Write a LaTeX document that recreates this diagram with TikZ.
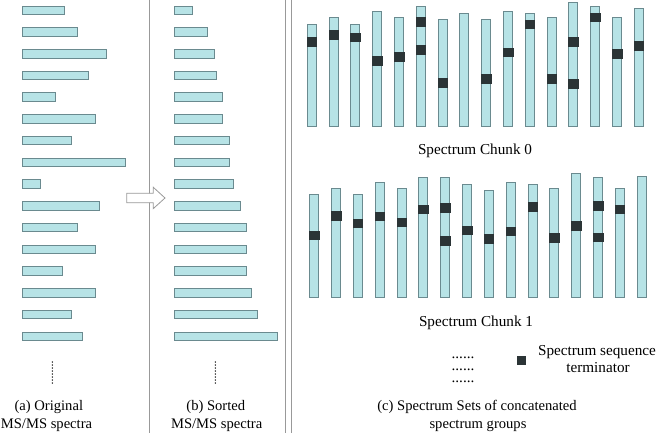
\documentclass[tikz,border=0pt]{standalone}
\usepackage{fontspec}
\setmainfont{Liberation Serif}
\definecolor{barfill}{HTML}{B7E3E6}
\definecolor{barline}{HTML}{6A8A8F}
\definecolor{termcol}{HTML}{2B3436}
\definecolor{divcol}{HTML}{999999}
\begin{document}
\begin{tikzpicture}[x=1pt,y=-1pt,
  hbar/.style={fill=barfill,draw=barline,line width=0.9pt},
  termbox/.style={fill=termcol,draw=termcol,line width=0.4pt},
  divline/.style={draw=divcol,line width=0.9pt},
  lbl/.style={font=\fontsize{15.2pt}{19pt}\selectfont,inner sep=0pt,anchor=base},
  caplbl/.style={lbl,font=\fontsize{14.6pt}{19pt}\selectfont},
  vdots/.style={line width=1.5pt,line cap=round,dash pattern=on 0pt off 3pt}]
\useasboundingbox (0,0) rectangle (659,433);
% dividers
\draw[divline] (149,0) -- (149,433);
\draw[divline] (285.7,0) -- (285.7,433);
\draw[divline] (291,0) -- (291,433);
% (a) original bars
\foreach \r [count=\i from 0] in {64.3,77.7,106,88.3,55.7,95.3,71,125.7,40.7,99.3,77.7,95.3,62.7,95.3,71,82}
  \draw[hbar] (22.7,{6+21.73*\i}) rectangle (\r,{14.5+21.73*\i});
% (b) sorted bars
\foreach \r [count=\i from 0] in {192.3,207.7,214,216.3,222.7,222.7,229.3,229.3,233.7,240,246.7,246.7,246.7,251,257.3,277}
  \draw[hbar] (174.3,{6+21.73*\i}) rectangle (\r,{14.5+21.73*\i});
% vertical dots
\coordinate (da1) at (52.3,362);
\coordinate (da2) at (52.3,383);
\draw[vdots] (da1) -- (da2);
\coordinate (db1) at (215.3,362);
\coordinate (db2) at (215.3,383);
\draw[vdots] (db1) -- (db2);
% arrow
\draw[fill=white,draw=gray!80,line width=0.8pt,line join=miter]
  (126.7,193.3) -- (153.3,193.3) -- (153.3,187.3) -- (165,198) -- (153.3,208.6) -- (153.3,202.7) -- (126.7,202.7) -- cycle;
% chunk 0
\foreach \t [count=\i from 0] in {24,17.3,24,11,17.3,6.7,19.7,13.7,19.7,11,13.3,17.3,2.3,6.7,17.3,8.7}
  \draw[hbar] ({307.3+21.8*\i},\t) rectangle ({316.3+21.8*\i},126.7);
\foreach \i/\c in {0/41.7,1/35,2/37.3,3/61,4/56.7,5/21.7,5/50,6/82.7,8/78.7,9/52.3,10/24.3,11/78.7,12/41.7,12/84,13/17.3,14/54,15/45.7}
  \draw[termbox] ({307.0+21.8*\i},{\c-4.3}) rectangle ({316.6+21.8*\i},{\c+4.3});
% chunk 1
\foreach \t [count=\i from 0] in {194.7,188.3,194.7,182,188.3,177.3,177.3,184,190.7,182,184,188.3,173.3,177.3,188.3,176.7}
  \draw[hbar] ({309.7+21.83*\i},\t) rectangle ({318.7+21.83*\i},297.3);
\foreach \i/\c in {0/235.3,1/215.7,2/223,3/216,4/222,5/209,6/207.7,6/240.7,7/230,8/238.7,9/231,10/206.7,11/237.7,12/225.7,13/205.7,13/237.3,14/209}
  \draw[termbox] ({309.4+21.83*\i},{\c-4.3}) rectangle ({319.0+21.83*\i},{\c+4.3});
% labels
\node[lbl] (chunk0) at (475,154.5) {Spectrum Chunk 0};
\node[lbl] (chunk1) at (476,326.5) {Spectrum Chunk 1};
\node[lbl,font=\fontsize{15.2pt}{12.3pt}\selectfont,align=center] (dots) at (463,382.6) {......\\......\\......};
\node[termbox,minimum width=8.6pt,minimum height=8.6pt,inner sep=0pt] (legsq) at (521,360.3) {};
\node[lbl] (leg1) at (597,355) {Spectrum sequence};
\node[lbl] (leg2) at (598,372.7) {terminator};
\node[caplbl] (capa1) at (48.8,410) {(a) Original};
\node[caplbl] (capa2) at (46.5,428) {MS/MS spectra};
\node[caplbl] (capb1) at (215.8,410) {(b) Sorted};
\node[caplbl] (capb2) at (216.7,428) {MS/MS spectra};
\node[caplbl] (capc1) at (477,410) {(c) Spectrum Sets of concatenated};
\node[caplbl] (capc2) at (478,428) {spectrum groups};
\end{tikzpicture}
\end{document}
